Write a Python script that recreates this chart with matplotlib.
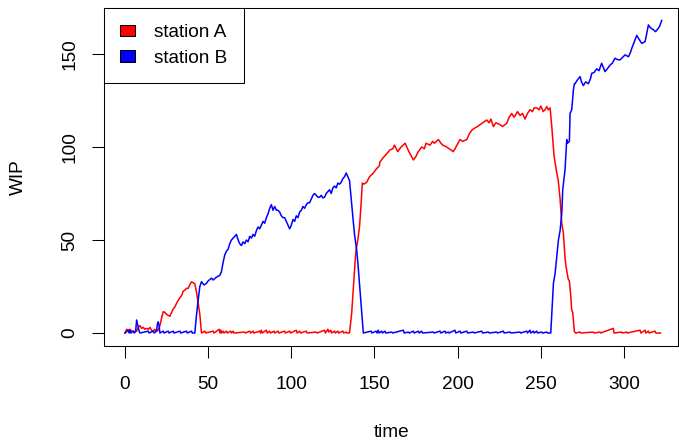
import matplotlib
matplotlib.use("Agg")
import matplotlib.pyplot as plt
from matplotlib.patches import Patch

plt.rcParams['font.family'] = ['Liberation Sans', 'DejaVu Sans']

# ---- data (time, WIP) ----
time_A = [0, 1, 2, 3, 4, 5, 6, 7, 8, 9, 10, 11, 12, 13, 14, 15, 16, 17, 18, 19, 20,
          21, 22, 23, 24, 25, 26, 27, 28, 29, 30, 31, 32, 33, 34, 35, 36, 37, 38, 39,
          40, 41, 42, 43, 44, 45, 46,
          48, 48.5, 53, 53.5, 56.7, 57.2, 57.5, 58, 59, 59.5, 61, 61.5, 63.5, 64, 65, 65.5,
          72, 72.5, 75, 75.5, 77, 77.5, 81, 81.5, 82, 82.5, 85, 85.5, 87, 87.5, 89.6, 90,
          92, 92.5, 96, 96.5, 99, 99.5, 103, 103.5, 105, 105.5, 109, 109.5, 115, 115.5,
          120, 120.5, 122, 122.5, 123.7, 124.2, 126, 126.5, 128, 128.5, 131, 131.5, 133,
          133.5, 135,
          136.3, 137, 138.3, 139, 140, 141, 142, 142.7, 143.5, 145.3, 147, 149.3, 151, 153,
          153.3, 155, 157, 159.3, 161, 162, 164, 166, 168.4, 170, 171, 173.4, 175, 176,
          178.4, 180, 181, 183.4, 185, 186, 188.4, 190, 191, 193.4, 195, 197.4, 199, 201.4,
          203, 205.5, 207, 208.5, 210, 212, 213.5, 215, 217.5, 219, 220, 221.5, 223, 225.5,
          227, 229.5, 231, 232.5, 234, 236, 237.5, 239, 240.5, 242, 243.5, 245, 246, 247.6,
          249, 250, 251.5, 252.5, 253.6, 254.5, 255.6,
          256.6, 258, 259.6, 260.5, 261.6, 262.6, 263.6, 264.6, 265.2, 266.5, 267.2, 268,
          268.6, 269.2, 270.2, 271,
          273.6, 274, 281.6, 282, 285.6, 286, 293.6, 294, 298.6, 299, 301.7, 302, 309.7,
          310.2, 312.7, 313.2, 314.7, 315.2, 318.7, 319.2, 322]
wip_A = [0, 2, 1.5, 2, 1, 1, 0.5, 1, 3, 4, 2.5, 3, 2, 2.5, 2, 3, 1.5, 1, 2, 1, 1.5,
         4, 8, 11.5, 11, 10, 9.5, 9, 11, 13, 14, 16, 17.5, 19, 20, 22.5, 23, 24, 24, 26,
         27.5, 27, 26.5, 22, 16, 10, 0,
         1, 0, 1, 0, 2, 0, 1.5, 0, 1, 0, 1, 0, 1, 0, 1, 0,
         0.5, 0, 1, 0, 1, 0, 1, 0, 1.5, 0, 1.5, 0, 1, 0, 1, 0,
         1, 0, 1, 0, 1, 0, 1.5, 0, 1, 0, 1, 0, 0.5, 0,
         1.5, 0, 2, 0.5, 1.5, 0, 1, 0, 1, 0, 1, 0, 0.5,
         0, 0,
         10.7, 20, 37.6, 45, 50, 57, 70, 80.6, 80, 81, 84, 86, 88, 90,
         92, 94, 96, 98.4, 99, 101, 97.5, 100, 102, 99, 97, 93, 95, 97,
         100, 99, 102, 101, 103, 102, 104, 102, 101, 100, 99, 97.5, 100, 104,
         103, 104, 107, 109, 110, 111, 112, 113, 114.5, 113, 115, 111, 113, 112,
         111, 112.7, 116, 118, 116, 119, 117, 118, 115, 118, 120, 119, 121, 121,
         120, 122, 119, 120, 121.7, 120, 121,
         111, 95, 86, 82, 72, 59, 53.6, 40, 35.6, 29, 28, 20,
         12.4, 11, 0.7, 0,
         0.5, 0, 0.5, 0, 0.5, 0, 2.5, 0, 0.5, 0, 0.5, 0, 1.5,
         0, 1.5, 0, 1, 0, 1, 0, 0]

time_B = [0, 2, 2.5, 3, 3.5, 5, 5.5, 6.4, 7, 7.5, 8, 8.5, 9, 14, 14.5, 17, 17.5, 19,
          19.5, 20, 20.5, 21, 23, 23.5, 26, 26.5, 29, 29.5, 33, 33.5, 37, 37.5, 40, 40.5,
          42, 43, 44, 45, 46, 47.5, 49, 50, 52, 53, 55, 57, 58, 59, 60, 61, 62, 63, 64,
          65, 66, 67, 68, 69, 70, 71, 72, 73, 74, 75, 76, 77, 78, 79, 80, 81, 82, 83, 84,
          85, 86, 87, 88, 89, 90, 91, 92, 93, 94, 95, 96, 97, 98, 99, 100, 101, 102, 103,
          104, 105, 106, 107, 108, 109, 110, 111, 112, 113, 114, 115, 116, 117, 118, 119,
          120, 121, 122, 123, 124, 125, 126, 127, 128, 129, 130, 131, 132, 133, 134, 135,
          136, 137, 138, 139.3, 140, 141.3, 142, 143.3,
          148, 148.5, 151, 151.5, 152.3, 152.8, 154.3, 154.8, 156.3, 156.8, 160.4, 160.9,
          167.4, 167.9, 170.4, 170.9, 173.4, 173.9, 176.4, 176.9, 178.4, 178.9, 185.4,
          185.9, 189.4, 189.9, 192.4, 192.9, 194.4, 194.9, 198.4, 198.9, 201.4, 201.9,
          205.5, 206, 209.5, 210, 214.5, 215, 218.5, 219, 223.5, 224, 227.5, 228, 231.5,
          232, 237.5, 238, 241.5, 242, 243.5, 244, 245.6, 246, 247.6, 248, 250.5, 251,
          253.6, 254, 256,
          257.1, 257.6, 258.6, 259.6, 260.6, 261.6, 262.6, 263.2, 264.6, 265.6, 266, 267.2,
          267.6, 268.6, 269.6, 270.2, 270.6, 272, 273.6, 274.5, 275.6, 277, 278.6, 280,
          280.6, 282, 283.6, 285, 286.6, 287.5, 288.6, 290, 291.6, 293, 294.6, 296, 297.6,
          299, 300.7, 302.7, 304, 304.7, 306, 307.7, 309, 310.7, 312.7, 313.5, 314.7, 316,
          317.7, 319, 320.7, 321.5, 322.7]
wip_B = [0, 1.5, 0, 1.5, 0, 1, 0, 1, 7, 5, 3, 1, 0, 1, 0, 1, 0, 1,
         5, 6, 4, 0, 1, 0, 1, 0, 1, 0, 1, 0, 1, 0, 1, 0,
         0, 9.7, 17.7, 25, 27.6, 25.8, 26.7, 28, 29.5, 28.5, 30, 31, 33, 38, 42, 44, 45, 48, 50,
         51, 52, 53, 50, 48, 47, 49, 48, 50, 49, 52, 51, 53, 52, 55, 57, 56, 58, 60, 59,
         62, 64, 67, 69, 66, 68, 66, 66, 65, 63, 62, 62, 60, 58, 56, 58, 61, 60, 63,
         62, 65, 66, 68, 67, 69, 70, 70, 72, 74, 75, 74, 73, 73, 74, 72.6,
         73, 75, 76, 77, 75, 78, 79, 78, 80.6, 80, 81, 83, 84, 86, 84, 82,
         72, 62.5, 53, 44.6, 38, 23, 15, 0,
         1, 0, 1, 0, 1.5, 0, 1, 0, 1, 0, 0.5, 0,
         1.5, 0, 0.5, 0, 1, 0, 1, 0, 1, 0, 0.5,
         0, 1, 0, 1, 0, 0.5, 0, 1.5, 0, 1, 0,
         1, 0, 0.5, 0, 1, 0, 0.5, 0, 0.5, 0, 1, 0, 0.5,
         0, 0.5, 0, 1, 0, 1.5, 0, 1, 0, 1, 0, 0.5, 0,
         0.5, 0, 0,
         17.7, 26.7, 32, 41, 50, 55, 64, 77, 88, 104, 102, 103,
         118, 120, 130.6, 134, 134, 136, 137.8, 135, 133, 135, 134, 137,
         139.6, 140, 142, 141, 145, 143, 140.5, 142, 144, 145, 147.7, 147, 146.8,
         148, 149.5, 148.5, 151, 153, 156, 160, 158, 155.7, 156.6, 160, 165.6, 164,
         163, 162, 163.8, 165, 168]

series_names = ["station A", "station B"]
series_colors = ["red", "blue"]
x_ticks = [0, 50, 100, 150, 200, 250, 300]
y_ticks = [0, 50, 100, 150]

# ---- figure ----
W, H = 679, 440
fig = plt.figure(figsize=(W / 100, H / 100), dpi=100)
ax_left, ax_right, ax_top, ax_bottom = 103.7, 678.5, 8.0, 345.5
ax = fig.add_axes([ax_left / W, 1 - ax_bottom / H,
                   (ax_right - ax_left) / W, (ax_bottom - ax_top) / H])

ax.plot(time_A, wip_A, color=series_colors[0], lw=1.1)
ax.plot(time_B, wip_B, color=series_colors[1], lw=1.1)

ax.set_xlim(-12.8, 332.8)
ax.set_ylim(-6.72, 174.7)

fs = 13.7
ax.set_xticks(x_ticks)
ax.set_yticks(y_ticks)
ax.set_xticklabels([str(v) for v in x_ticks], fontsize=fs)
ax.set_yticklabels([str(v) for v in y_ticks], fontsize=fs, rotation=90, va='center')
ax.tick_params(axis='x', direction='out', length=8.6, width=0.75, pad=13.5, color='black')
ax.tick_params(axis='y', direction='out', length=8.6, width=0.75, pad=9.5, color='black')

for s in ax.spines.values():
    s.set_linewidth(0.75)
    s.set_color('black')

ax.set_xlabel('time', fontsize=fs, va='center')
ax.xaxis.set_label_coords(0.5, (ax_bottom - 432) / (ax_bottom - ax_top))
ax.set_ylabel('WIP', fontsize=fs, va='center')
ax.yaxis.set_label_coords((18.3 - ax_left) / (ax_right - ax_left), 0.5)

handles = [Patch(facecolor=c, edgecolor='black', linewidth=0.75) for c in series_colors]
leg = ax.legend(handles, series_names, loc='upper left', fontsize=fs,
                frameon=True, fancybox=False, framealpha=1, edgecolor='black',
                borderaxespad=0.0, borderpad=0.85, handlelength=0.8, handleheight=0.55,
                handletextpad=1.0, labelspacing=0.45)
leg.get_frame().set_linewidth(0.75)

fig.savefig('out.png', dpi=100)
